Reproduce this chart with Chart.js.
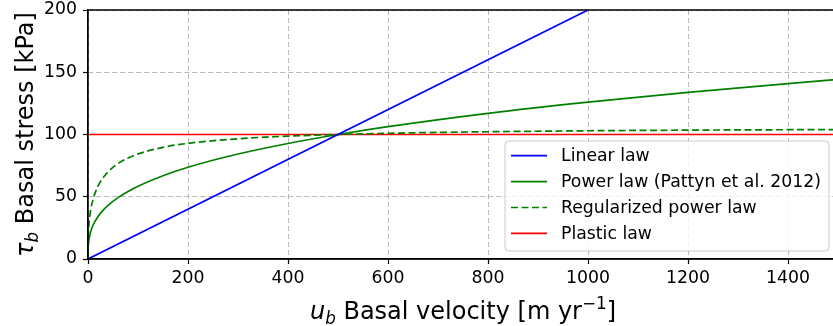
<!DOCTYPE html>
<html>
<head>
<meta charset="utf-8">
<script src="https://cdn.jsdelivr.net/npm/chart.js@4/dist/chart.umd.min.js"></script>
<style>
  html, body { margin: 0; padding: 0; background: #fff; overflow: hidden; }
  #wrap { width: 860px; height: 326px; }
</style>
</head>
<body>
<div id="wrap"><canvas id="frictionChart" width="860" height="326"></canvas></div>
<script>
// values
const velocity = [0, 0.2, 1, 2, 5, 10, 20, 30, 40, 60, 80, 100, 150, 200, 300, 400, 500, 600, 800, 1000, 1200, 1500];
const powerStress = [0, 7.4, 12.6, 15.9, 21.5, 27.1, 34.2, 39.1, 43.1, 49.3, 54.3, 58.5, 66.9, 73.7, 84.3, 92.8, 100, 106.3, 117.0, 126.0, 133.9, 144.2];
const regularizedStress = [0, 13.4, 22.8, 28.7, 38.5, 47.8, 58.5, 65.2, 70.0, 76.7, 81.1, 84.4, 89.7, 92.9, 96.6, 98.7, 100.0, 101.0, 102.2, 103.0, 103.5, 104.0];
const linearVelocity = [0, 1000];
const linearStress = [0, 200];
const plasticVelocity = [0, 1500];
const plasticStress = [100, 100];
const seriesLabels = ['Linear law', 'Power law (Pattyn et al. 2012)', 'Regularized power law', 'Plastic law'];
const xTicks = [0, 200, 400, 600, 800, 1000, 1200, 1400];
const yTicks = [0, 50, 100, 150, 200];

const FONT = "'DejaVu Sans', sans-serif";
const TICK_SIZE = 17.3;
const TITLE_SIZE = 24;

const toPoints = (xs, ys) => xs.map((x, i) => ({ x: x, y: ys[i] }));

// draws text made of plain / italic / sub / sup pieces, centred on (x, y) baseline
function drawRich(ctx, parts, x, y, size) {
  const fontFor = p => (p.italic ? 'oblique ' : '') + (p.sub || p.sup ? size * 0.7 : size) + 'px ' + FONT;
  let total = 0;
  parts.forEach(p => { ctx.font = fontFor(p); total += ctx.measureText(p.t).width; });
  let cx = x - total / 2;
  ctx.textAlign = 'left';
  ctx.textBaseline = 'alphabetic';
  parts.forEach(p => {
    ctx.font = fontFor(p);
    let dy = 0;
    if (p.sub) dy = size * 0.2;
    if (p.sup) dy = -size * 0.4;
    ctx.fillText(p.t, cx, y + dy);
    cx += ctx.measureText(p.t).width;
  });
}

const extrasPlugin = {
  id: 'extras',
  afterDraw(chart) {
    const ctx = chart.ctx;
    const area = chart.chartArea;
    ctx.save();

    // spines, solid, on top
    ctx.strokeStyle = '#000';
    ctx.lineWidth = 1.3;
    ctx.setLineDash([]);
    ctx.beginPath();
    ctx.moveTo(area.right, area.top);
    ctx.lineTo(area.left, area.top);
    ctx.lineTo(area.left, area.bottom);
    ctx.lineTo(area.right, area.bottom);
    ctx.stroke();

    // axis titles
    ctx.fillStyle = '#000';
    drawRich(ctx, [
      { t: 'u', italic: true }, { t: 'b', italic: true, sub: true },
      { t: ' Basal velocity [m yr' }, { t: '\u22121', sup: true }, { t: ']' }
    ], (area.left + area.right) / 2, 319, TITLE_SIZE);

    ctx.save();
    ctx.translate(33, (area.top + area.bottom) / 2);
    ctx.rotate(-Math.PI / 2);
    drawRich(ctx, [
      { t: '\u03c4', italic: true }, { t: 'b', italic: true, sub: true },
      { t: ' Basal stress [kPa]' }
    ], 0, 0, TITLE_SIZE);
    ctx.restore();

    // legend box
    const bx = 505, by = 141, bw = 324, bh = 110, r = 4;
    ctx.beginPath();
    ctx.moveTo(bx + r, by);
    ctx.arcTo(bx + bw, by, bx + bw, by + bh, r);
    ctx.arcTo(bx + bw, by + bh, bx, by + bh, r);
    ctx.arcTo(bx, by + bh, bx, by, r);
    ctx.arcTo(bx, by, bx + bw, by, r);
    ctx.closePath();
    ctx.fillStyle = 'rgba(255,255,255,0.8)';
    ctx.fill();
    ctx.strokeStyle = '#cccccc';
    ctx.lineWidth = 1;
    ctx.stroke();

    chart.data.datasets.forEach((ds, i) => {
      const yy = 155.7 + i * 25.9;
      ctx.strokeStyle = ds.borderColor;
      ctx.lineWidth = ds.borderWidth;
      ctx.setLineDash(ds.borderDash || []);
      ctx.beginPath();
      ctx.moveTo(511, yy);
      ctx.lineTo(547, yy);
      ctx.stroke();
      ctx.setLineDash([]);
      ctx.fillStyle = '#000';
      ctx.font = TICK_SIZE + 'px ' + FONT;
      ctx.textAlign = 'left';
      ctx.textBaseline = 'middle';
      ctx.fillText(ds.label, 561, yy + 1);
    });

    ctx.restore();
  }
};

const gridStyle = { color: '#b8b8b8', lineWidth: 1, tickColor: '#000', tickLength: 5, tickBorderDash: [], tickWidth: 1.2 };
const borderStyle = { color: '#000', width: 1.3, dash: [5, 3] };

new Chart(document.getElementById('frictionChart'), {
  type: 'line',
  data: {
    datasets: [
      { label: seriesLabels[0], data: toPoints(linearVelocity, linearStress), borderColor: '#0000ff', borderWidth: 1.7 },
      { label: seriesLabels[1], data: toPoints(velocity, powerStress), borderColor: '#008000', borderWidth: 1.7, cubicInterpolationMode: 'monotone' },
      { label: seriesLabels[2], data: toPoints(velocity, regularizedStress), borderColor: '#008000', borderWidth: 1.7, borderDash: [7, 3.5], cubicInterpolationMode: 'monotone' },
      { label: seriesLabels[3], data: toPoints(plasticVelocity, plasticStress), borderColor: '#ff0000', borderWidth: 1.7 }
    ]
  },
  options: {
    responsive: false,
    animation: false,
    parsing: false,
    elements: { point: { radius: 0 }, line: { fill: false } },
    layout: { padding: { top: 10, right: 22, left: 0, bottom: 0 } },
    plugins: { legend: { display: false }, tooltip: { enabled: false } },
    scales: {
      x: {
        type: 'linear',
        min: 0,
        max: 1500,
        afterBuildTicks: scale => { scale.ticks = xTicks.map(v => ({ value: v })); },
        afterFit: scale => { scale.height = 67; scale.paddingLeft = 0; scale.paddingRight = 0; },
        ticks: { color: '#000', font: { family: FONT, size: TICK_SIZE }, padding: 4, maxRotation: 0, callback: v => String(v) },
        grid: gridStyle,
        border: borderStyle
      },
      y: {
        type: 'linear',
        min: 0,
        max: 200,
        afterBuildTicks: scale => { scale.ticks = yTicks.map(v => ({ value: v })); },
        afterFit: scale => { scale.width = 88; scale.paddingTop = 0; scale.paddingBottom = 0; },
        ticks: { color: '#000', font: { family: FONT, size: TICK_SIZE }, padding: 6, callback: v => String(v) },
        grid: gridStyle,
        border: borderStyle
      }
    }
  },
  plugins: [extrasPlugin]
});
</script>
</body>
</html>
